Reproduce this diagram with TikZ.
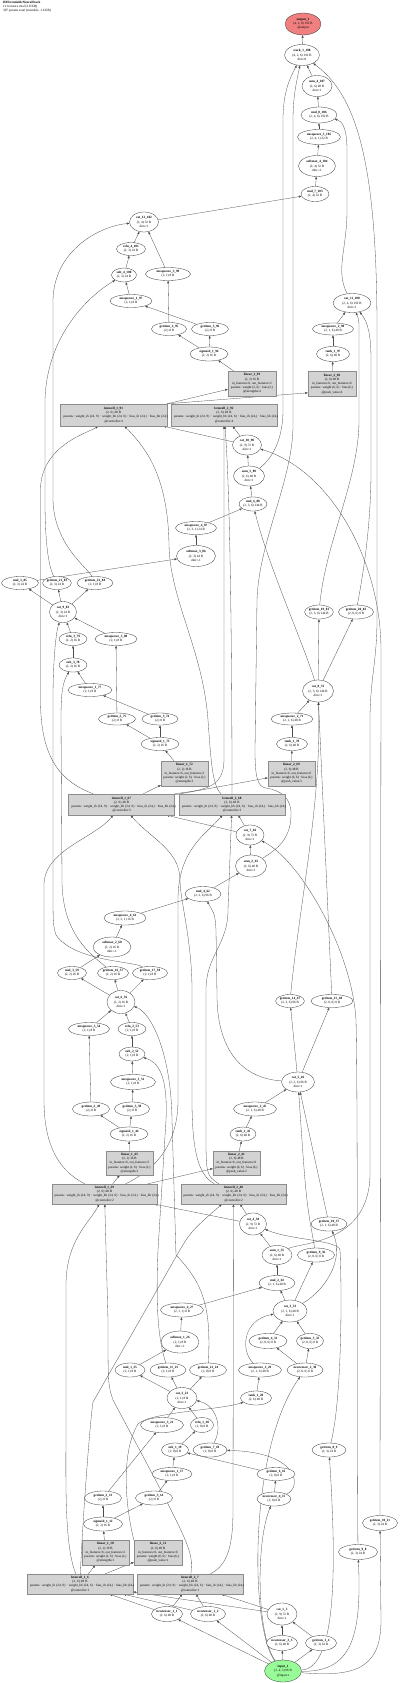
\documentclass[tikz,border=0pt]{standalone}
\usepackage{fontspec}
\setmainfont{Liberation Serif}
\usetikzlibrary{shapes.geometric, arrows.meta, backgrounds}
\definecolor{outFill}{HTML}{F08080}
\definecolor{inFill}{HTML}{98FB98}
\definecolor{boxFill}{HTML}{D3D3D3}
\definecolor{boxLine}{HTML}{8C8C8C}
\newcommand{\gfont}{\fontsize{3.3}{4.2}\selectfont}
\newcommand{\lstmparams}{\makebox[100pt][l]{params: weight\_ih (24, 9) · weight\_hh (24, 6) · bias\_ih (24,) · bias\_hh (24,)}}
\tikzset{
  tensor/.style={ellipse, draw=black!80, fill=white, line width=0.3pt,
                 inner sep=0pt, align=center, font=\gfont},
  outV/.style={tensor, fill=outFill},
  inV/.style={tensor, fill=inFill},
  modBox/.style={rectangle, draw=boxLine, fill=boxFill, line width=0.4pt,
                 inner sep=0pt, align=center, font=\gfont},
  lstmBox/.style={modBox, minimum width=106pt, minimum height=21pt, text width=100pt},
  linBox/.style={modBox, minimum width=48pt, minimum height=25pt},
  edge/.style={draw=black!70, line width=0.3pt, -{Triangle[length=2.6pt, width=2pt]}},
}

\begin{document}
\begin{tikzpicture}[x=1pt, y=-1pt]
  \useasboundingbox (0,0) rectangle (400,1683);
  %% title
  \node[anchor=north west, align=left, font=\gfont, inner sep=0pt] (title) at (3,1)
    {\textbf{DifferentiableNeuralStack}\\111 tensors total (3.8 KB)\\307 params total (trainable, 1.6 KB)};

  %% step 4 and output
  \node[outV, minimum width=36pt, minimum height=22pt] (out) at (303,24) {\textbf{output\_1}\\(4, 2, 6) 192 B\\@output};
  \node[tensor, minimum width=35pt, minimum height=21pt] (stk) at (302,55) {\textbf{stack\_1\_108}\\(4, 2, 6) 192 B\\dim=0};
  \node[tensor, minimum width=30pt, minimum height=21pt] (sum4) at (317,86) {\textbf{sum\_4\_107}\\(2, 6) 48 B\\dim=1};
  \node[tensor, minimum width=36pt, minimum height=16pt] (mul8) at (319,115) {\textbf{mul\_8\_106}\\(2, 4, 6) 192 B};
  \node[tensor, minimum width=43pt, minimum height=15pt] (u105) at (319,137) {\textbf{unsqueeze\_5\_105}\\(2, 4, 1) 32 B};
  \node[tensor, minimum width=37pt, minimum height=21pt] (sm4) at (317,166) {\textbf{softmax\_4\_104}\\(2, 4) 32 B\\dim=-1};
  \node[tensor, minimum width=28pt, minimum height=15pt] (mul7) at (315,194) {\textbf{mul\_7\_103}\\(2, 4) 32 B};
  \node[tensor, minimum width=29pt, minimum height=20pt] (cat12) at (144,222) {\textbf{cat\_12\_102}\\(2, 4) 32 B\\dim=1};
  \node[tensor, minimum width=29pt, minimum height=13pt] (relu4) at (131,249) {\textbf{relu\_4\_101}\\(2, 3) 24 B};
  \node[tensor, minimum width=25pt, minimum height=14pt] (sub4) at (124,275) {\textbf{sub\_4\_100}\\(2, 3) 24 B};
  \node[tensor, minimum width=45pt, minimum height=13pt] (u99) at (168,274) {\textbf{unsqueeze\_3\_99}\\(2, 1) 8 B};
  \node[tensor, minimum width=42pt, minimum height=13pt] (u97) at (131,301) {\textbf{unsqueeze\_1\_97}\\(2, 1) 8 B};
  \node[tensor, minimum width=35pt, minimum height=13pt] (g95) at (169,329) {\textbf{getitem\_2\_95}\\(2,) 8 B};
  \node[tensor, minimum width=37pt, minimum height=13pt] (g96) at (210,329) {\textbf{getitem\_3\_96}\\(2,) 8 B};
  \node[tensor, minimum width=38pt, minimum height=14pt] (sig4) at (209,354) {\textbf{sigmoid\_1\_94}\\(2, 2) 16 B};
  \node[linBox] (lin14) at (252,383.5) {\textbf{linear\_1\_93}\\(2, 2) 16 B\\in\_features=6, out\_features=2\\params: weight (2, 6) · bias (2,)\\@strengths:4};
  \node[lstmBox, minimum width=107pt, minimum height=22pt] (lstmA4) at (113.5,415) {\textbf{lstmcell\_1\_91}\\(2, 6) 48 B\\\lstmparams\\@controller:4};
  \node[lstmBox, minimum height=22pt] (lstmB4) at (224,415) {\textbf{lstmcell\_2\_92}\\(2, 6) 48 B\\\lstmparams\\@controller:4};
  \node[tensor, minimum width=38pt, minimum height=19pt] (cat11) at (352,303) {\textbf{cat\_11\_100}\\(2, 4, 6) 192 B\\dim=1};
  \node[tensor, minimum width=41pt, minimum height=12pt] (u98) at (333,329) {\textbf{unsqueeze\_2\_98}\\(2, 1, 6) 48 B};
  \node[tensor, minimum width=33pt, minimum height=15pt] (tanh4) at (333,354) {\textbf{tanh\_1\_97}\\(2, 6) 48 B};
  \node[linBox] (lin24) at (332,384) {\textbf{linear\_2\_96}\\(2, 6) 48 B\\in\_features=6, out\_features=6\\params: weight (6, 6) · bias (6,)\\@push\_value:4};

  %% step 3
  \node[tensor, minimum width=29pt, minimum height=20pt] (cat10) at (247,445) {\textbf{cat\_10\_90}\\(2, 9) 72 B\\dim=1};
  \node[tensor, minimum width=31pt, minimum height=20pt] (sum3) at (249,476) {\textbf{sum\_3\_89}\\(2, 6) 48 B\\dim=1};
  \node[tensor, minimum width=28pt, minimum height=14pt] (mul6) at (253,504) {\textbf{mul\_6\_88}\\(2, 3, 6) 144 B};
  \node[tensor, minimum width=41pt, minimum height=13pt] (u87) at (196,528) {\textbf{unsqueeze\_4\_87}\\(2, 3, 1) 24 B};
  \node[tensor, minimum width=39pt, minimum height=21pt] (sm3) at (196,556) {\textbf{softmax\_3\_86}\\(2, 3) 24 B\\dim=-1};
  \node[tensor, minimum width=37pt, minimum height=13pt] (mul5) at (20,583) {\textbf{mul\_5\_85}\\(2, 3) 24 B};
  \node[tensor, minimum width=28pt, minimum height=13pt] (g83) at (57,583) {\textbf{getitem\_21\_83}\\(2, 3) 24 B};
  \node[tensor, minimum width=36pt, minimum height=13pt] (g84) at (95,583) {\textbf{getitem\_22\_84}\\(2, 1) 8 B};
  \node[tensor, minimum width=27pt, minimum height=21pt] (cat9) at (63,612) {\textbf{cat\_9\_82}\\(2, 3) 24 B\\dim=1};
  \node[tensor, minimum width=28pt, minimum height=13pt] (relu3) at (73,639) {\textbf{relu\_3\_79}\\(2, 2) 16 B};
  \node[tensor, minimum width=42pt, minimum height=13pt] (u80) at (116,639) {\textbf{unsqueeze\_3\_80}\\(2, 1) 8 B};
  \node[tensor, minimum width=28pt, minimum height=14pt] (sub3) at (73,665) {\textbf{sub\_3\_78}\\(2, 2) 16 B};
  \node[tensor, minimum width=44pt, minimum height=13pt] (u77) at (90,690) {\textbf{unsqueeze\_1\_77}\\(2, 1) 8 B};
  \node[tensor, minimum width=26pt, minimum height=14pt] (g81) at (319,612) {\textbf{getitem\_19\_81}\\(2, 3, 6) 144 B};
  \node[tensor, minimum width=35pt, minimum height=14pt] (g82) at (356,612) {\textbf{getitem\_20\_82}\\(2, 0, 6) 0 B};
  \node[tensor, minimum width=31pt, minimum height=22pt] (cat8) at (318,691) {\textbf{cat\_8\_76}\\(2, 3, 6) 144 B\\dim=1};
  \node[tensor, minimum width=37pt, minimum height=12pt] (g75) at (117,719) {\textbf{getitem\_2\_75}\\(2,) 8 B};
  \node[tensor, minimum width=36pt, minimum height=12pt] (g74) at (160,719) {\textbf{getitem\_3\_74}\\(2,) 8 B};
  \node[tensor, minimum width=38pt, minimum height=13pt] (sig3) at (160,744) {\textbf{sigmoid\_1\_73}\\(2, 2) 16 B};
  \node[linBox, minimum width=47pt] (lin13) at (184.5,773.5) {\textbf{linear\_1\_72}\\(2, 2) 16 B\\in\_features=6, out\_features=2\\params: weight (2, 6) · bias (2,)\\@strengths:3};
  \node[tensor, minimum width=42pt, minimum height=12pt] (u71) at (292,719) {\textbf{unsqueeze\_2\_71}\\(2, 1, 6) 48 B};
  \node[tensor, minimum width=31pt, minimum height=13pt] (tanh3) at (292,744) {\textbf{tanh\_1\_70}\\(2, 6) 48 B};
  \node[linBox, minimum width=47pt] (lin23) at (291.5,773.5) {\textbf{linear\_2\_69}\\(2, 6) 48 B\\in\_features=6, out\_features=6\\params: weight (6, 6) · bias (6,)\\@push\_value:3};
  \node[lstmBox] (lstmA3) at (121.5,804.5) {\textbf{lstmcell\_1\_67}\\(2, 6) 48 B\\\lstmparams\\@controller:3};
  \node[lstmBox] (lstmB3) at (232,804.5) {\textbf{lstmcell\_2\_68}\\(2, 6) 48 B\\\lstmparams\\@controller:3};
  \node[tensor, minimum width=28pt, minimum height=20pt] (cat7) at (250,835) {\textbf{cat\_7\_66}\\(2, 9) 72 B\\dim=1};

  %% step 2
  \node[tensor, minimum width=31pt, minimum height=22pt] (sum2) at (251,866) {\textbf{sum\_2\_63}\\(2, 6) 48 B\\dim=1};
  \node[tensor, minimum width=36pt, minimum height=15pt] (mul4) at (203,894) {\textbf{mul\_4\_62}\\(2, 2, 6) 96 B};
  \node[tensor, minimum width=42pt, minimum height=14pt] (u61) at (125,918) {\textbf{unsqueeze\_4\_61}\\(2, 2, 1) 16 B};
  \node[tensor, minimum width=38pt, minimum height=20pt] (sm2) at (112,947) {\textbf{softmax\_2\_60}\\(2, 2) 16 B\\dim=-1};
  \node[tensor, minimum width=29pt, minimum height=13pt] (mul3) at (72,973) {\textbf{mul\_3\_59}\\(2, 2) 16 B};
  \node[tensor, minimum width=31pt, minimum height=13pt] (g57) at (113,973) {\textbf{getitem\_16\_57}\\(2, 2) 16 B};
  \node[tensor, minimum width=35pt, minimum height=13pt] (g58) at (150,973) {\textbf{getitem\_17\_58}\\(2, 1) 8 B};
  \node[tensor, minimum width=28pt, minimum height=23pt] (cat6) at (121,1002) {\textbf{cat\_6\_56}\\(2, 2) 16 B\\dim=1};
  \node[tensor, minimum width=41pt, minimum height=13pt] (u54) at (89,1029) {\textbf{unsqueeze\_3\_54}\\(2, 1) 8 B};
  \node[tensor, minimum width=28pt, minimum height=13pt] (relu2) at (132,1029) {\textbf{relu\_2\_53}\\(2, 1) 8 B};
  \node[tensor, minimum width=26pt, minimum height=14pt] (sub2) at (132,1054) {\textbf{sub\_2\_52}\\(2, 1) 8 B};
  \node[tensor, minimum width=45pt, minimum height=15pt] (u51) at (133,1082) {\textbf{unsqueeze\_1\_51}\\(2, 1) 8 B};
  \node[tensor, minimum width=37pt, minimum height=14pt] (g49) at (91,1109) {\textbf{getitem\_2\_49}\\(2,) 8 B};
  \node[tensor, minimum width=35pt, minimum height=14pt] (g50) at (132,1109) {\textbf{getitem\_3\_50}\\(2,) 8 B};
  \node[tensor, minimum width=24pt, minimum height=13pt] (g47) at (290,1001) {\textbf{getitem\_14\_47}\\(2, 2, 6) 96 B};
  \node[tensor, minimum width=42pt, minimum height=13pt] (g48) at (332,1001) {\textbf{getitem\_15\_48}\\(2, 0, 6) 0 B};
  \node[tensor, minimum width=33pt, minimum height=20pt] (cat5) at (298,1082) {\textbf{cat\_5\_46}\\(2, 2, 6) 96 B\\dim=1};
  \node[tensor, minimum width=43pt, minimum height=14pt] (u45) at (255,1109) {\textbf{unsqueeze\_2\_45}\\(2, 1, 6) 48 B};
  \node[tensor, minimum width=38pt, minimum height=14pt] (sig2) at (129,1134) {\textbf{sigmoid\_1\_44}\\(2, 2) 16 B};
  \node[linBox, minimum width=47pt, minimum height=24pt] (lin12) at (129.5,1163) {\textbf{linear\_1\_43}\\(2, 2) 16 B\\in\_features=6, out\_features=2\\params: weight (2, 6) · bias (2,)\\@strengths:2};
  \node[tensor, minimum width=26pt, minimum height=14pt] (tanh2) at (243,1134) {\textbf{tanh\_1\_42}\\(2, 6) 48 B};
  \node[linBox, minimum width=47pt, minimum height=24pt] (lin22) at (236.5,1163) {\textbf{linear\_2\_41}\\(2, 6) 48 B\\in\_features=6, out\_features=6\\params: weight (6, 6) · bias (6,)\\@push\_value:2};
  \node[lstmBox, minimum width=105pt, minimum height=20pt] (lstmA2) at (104.5,1194) {\textbf{lstmcell\_1\_39}\\(2, 6) 48 B\\\lstmparams\\@controller:2};
  \node[lstmBox, minimum width=105pt, minimum height=20pt] (lstmB2) at (233.5,1194) {\textbf{lstmcell\_2\_40}\\(2, 6) 48 B\\\lstmparams\\@controller:2};
  \node[tensor, minimum width=27pt, minimum height=22pt] (cat4) at (253,1224) {\textbf{cat\_4\_38}\\(2, 9) 72 B\\dim=1};
  \node[tensor, minimum width=36pt, minimum height=14pt] (g37) at (329,1224) {\textbf{getitem\_10\_37}\\(2, 1, 6) 48 B};
  \node[tensor, minimum width=30pt, minimum height=19pt] (sum1) at (277,1255) {\textbf{sum\_1\_35}\\(2, 6) 48 B\\dim=1};
  \node[tensor, minimum width=37pt, minimum height=14pt] (g36) at (316,1255) {\textbf{getitem\_9\_36}\\(2, 0, 6) 0 B};

  %% step 1
  \node[tensor, minimum width=36pt, minimum height=15pt] (mul2) at (277,1283) {\textbf{mul\_2\_34}\\(2, 1, 6) 48 B};
  \node[tensor, minimum width=34pt, minimum height=22pt] (cat3) at (290,1311) {\textbf{cat\_3\_33}\\(2, 1, 6) 48 B\\dim=1};
  \node[tensor, minimum width=38pt, minimum height=15pt] (g31) at (268,1341) {\textbf{getitem\_4\_31}\\(2, 0, 6) 0 B};
  \node[tensor, minimum width=27pt, minimum height=15pt] (g32) at (310,1341) {\textbf{getitem\_5\_32}\\(2, 0, 6) 0 B};
  \node[tensor, minimum width=43pt, minimum height=14pt] (u29) at (260,1370) {\textbf{unsqueeze\_2\_29}\\(2, 1, 6) 48 B};
  \node[tensor, minimum width=36pt, minimum height=14pt] (nt30) at (305,1370) {\textbf{newtensor\_2\_30}\\(2, 0, 6) 0 B};
  \node[tensor, minimum width=31pt, minimum height=14pt] (tanh1) at (256,1398) {\textbf{tanh\_1\_28}\\(2, 6) 48 B};
  \node[tensor, minimum width=43pt, minimum height=14pt] (u27) at (182,1310) {\textbf{unsqueeze\_4\_27}\\(2, 1, 1) 8 B};
  \node[tensor, minimum width=38pt, minimum height=22pt] (sm1) at (180,1342) {\textbf{softmax\_1\_26}\\(2, 1) 8 B\\dim=-1};
  \node[tensor, minimum width=30pt, minimum height=14pt] (mul1) at (130,1370) {\textbf{mul\_1\_25}\\(2, 1) 8 B};
  \node[tensor, minimum width=36pt, minimum height=14pt] (g23) at (168,1370) {\textbf{getitem\_11\_23}\\(2, 1) 8 B};
  \node[tensor, minimum width=37pt, minimum height=14pt] (g24) at (208,1370) {\textbf{getitem\_12\_24}\\(2, 0) 0 B};
  \node[tensor, minimum width=30pt, minimum height=21pt] (cat2) at (182,1398) {\textbf{cat\_2\_22}\\(2, 1) 8 B\\dim=1};
  \node[tensor, minimum width=43pt, minimum height=15pt] (u21) at (162,1425) {\textbf{unsqueeze\_3\_21}\\(2, 1) 8 B};
  \node[tensor, minimum width=23pt, minimum height=15pt] (relu1) at (202,1425) {\textbf{relu\_1\_20}\\(2, 0) 0 B};
  \node[tensor, minimum width=27pt, minimum height=14pt] (sub1) at (175,1450) {\textbf{sub\_1\_19}\\(2, 0) 0 B};
  \node[tensor, minimum width=34pt, minimum height=14pt] (g18) at (210,1450) {\textbf{getitem\_7\_18}\\(2, 0) 0 B};
  \node[tensor, minimum width=40pt, minimum height=13pt] (u17) at (172,1474) {\textbf{unsqueeze\_1\_17}\\(2, 1) 8 B};
  \node[tensor, minimum width=38pt, minimum height=13pt] (g16) at (276,1474) {\textbf{getitem\_6\_16}\\(2, 0) 0 B};
  \node[tensor, minimum width=34pt, minimum height=14pt] (nt15) at (274,1499) {\textbf{newtensor\_4\_15}\\(2, 0) 0 B};
  \node[tensor, minimum width=37pt, minimum height=14pt] (g13) at (103,1498) {\textbf{getitem\_2\_13}\\(2,) 8 B};
  \node[tensor, minimum width=37pt, minimum height=14pt] (g14) at (154,1498) {\textbf{getitem\_3\_14}\\(2,) 8 B};
  \node[tensor, minimum width=39pt, minimum height=14pt] (sig1) at (103,1524) {\textbf{sigmoid\_1\_12}\\(2, 2) 16 B};
  \node[tensor, minimum width=34pt, minimum height=14pt] (g9) at (329,1450) {\textbf{getitem\_8\_9}\\(2, 3) 24 B};
  \node[tensor, minimum width=35pt, minimum height=15pt] (g11) at (380,1523) {\textbf{getitem\_10\_11}\\(2, 3) 24 B};
  \node[linBox, minimum width=47pt] (lin11) at (105.5,1552.5) {\textbf{linear\_1\_10}\\(2, 2) 16 B\\in\_features=6, out\_features=2\\params: weight (2, 6) · bias (2,)\\@strengths:1};
  \node[linBox] (lin21) at (158,1552.5) {\textbf{linear\_2\_11}\\(2, 6) 48 B\\in\_features=6, out\_features=6\\params: weight (6, 6) · bias (6,)\\@push\_value:1};
  \node[tensor, minimum width=39pt, minimum height=15pt] (g10) at (358,1552) {\textbf{getitem\_9\_8}\\(2, 3) 24 B};
  \node[lstmBox, minimum height=20pt] (lstmA1) at (80,1584) {\textbf{lstmcell\_1\_6}\\(2, 6) 48 B\\\lstmparams\\@controller:1};
  \node[lstmBox, minimum height=20pt] (lstmB1) at (190,1584) {\textbf{lstmcell\_2\_7}\\(2, 6) 48 B\\\lstmparams\\@controller:1};
  \node[tensor, minimum width=31pt, minimum height=15pt] (nt1) at (167,1614) {\textbf{newtensor\_1\_1}\\(2, 6) 48 B};
  \node[tensor, minimum width=35pt, minimum height=15pt] (nt2) at (208,1614) {\textbf{newtensor\_1\_2}\\(2, 6) 48 B};
  \node[tensor, minimum width=30pt, minimum height=22pt] (cat1) at (282,1614) {\textbf{cat\_1\_5}\\(2, 9) 72 B\\dim=1};
  \node[tensor, minimum width=31pt, minimum height=15pt] (nt3) at (282,1643) {\textbf{newtensor\_3\_3}\\(2, 6) 48 B};
  \node[tensor, minimum width=31pt, minimum height=15pt] (g4) at (321,1643) {\textbf{getitem\_1\_4}\\(2, 3) 24 B};
  \node[inV, minimum width=37pt, minimum height=22pt] (inp) at (283,1671) {\textbf{input\_1}\\(2, 4, 3) 96 B\\@input.x};

  \begin{scope}[on background layer]
    %% step 1 connectors
    \draw[edge] (inp) -- (nt1);
    \draw[edge] (inp) -- (nt2);
    \draw[edge] (inp) -- (nt3);
    \draw[edge] (inp) -- (g4);
    \draw[edge] (inp) .. controls (256,1635) and (256,1540) .. (nt15);
    \draw[edge] (inp) .. controls (250,1630) and (248,1450) .. (nt30);
    \draw[edge] (inp) .. controls (338,1668) and (336,1560) .. (g9);
    \draw[edge] (inp) .. controls (350,1672) and (362,1640) .. (g10);
    \draw[edge] (inp) .. controls (360,1678) and (381,1665) .. (381,1620) -- (g11);
    \draw[edge] (nt3) -- (cat1);
    \draw[edge] (g4) -- (cat1);
    \draw[edge] (nt1) -- (lstmA1);
    \draw[edge] (nt2) -- (lstmA1);
    \draw[edge] (cat1) -- (lstmA1);
    \draw[edge] (nt1) -- (lstmB1);
    \draw[edge] (nt2) -- (lstmB1);
    \draw[edge] (cat1) -- (lstmB1);
    \draw[edge] (lstmA1) -- (lin11);
    \draw[edge] (lstmA1) -- (lin21);
    \draw[edge] (lstmA1) .. controls (64,1545) and (66,1480) .. (66,1420) -- (66,1285)
                .. controls (66,1240) and (90,1222) .. (lstmA2);
    \draw[edge] (lstmB1) .. controls (193,1550) .. (113,1400) .. controls (108,1385) .. (108,1320) -- (lstmA2);
    \draw[edge] (lstmA1) .. controls (82,1530) and (90,1420) .. (93,1402) -- (173,1262)
                .. controls (190,1232) .. (lstmB2);
    \draw[edge] (lstmB1) .. controls (228,1565) and (233,1545) .. (233,1510) -- (lstmB2);
    \draw[edge] (lin11) -- (sig1);
    \draw[edge] (sig1) -- (g13);
    \draw[edge] (sig1) -- (g14);
    \draw[edge] (g13) -- (u21);
    \draw[edge] (g14) -- (u17);
    \draw[edge] (u17) -- (sub1);
    \draw[edge] (g16) -- (sub1);
    \draw[edge] (nt15) -- (g16);
    \draw[edge] (nt15) .. controls (302,1488) and (300,1452) .. (g18);
    \draw[edge] (sub1) -- (relu1);
    \draw[edge] (u21) -- (cat2);
    \draw[edge] (relu1) -- (cat2);
    \draw[edge] (g18) .. controls (224,1425) and (214,1404) .. (cat2);
    \draw[edge] (lin21.north west) .. controls (124,1500) and (122,1450) .. (138,1424)
                .. controls (150,1412) and (220,1410) .. (tanh1);
    \draw[edge] (tanh1) -- (u29);
    \draw[edge] (nt30) -- (g31);
    \draw[edge] (nt30) -- (g32);
    \draw[edge] (g31) -- (cat3);
    \draw[edge] (g32) -- (cat3);
    \draw[edge] (u29) .. controls (240,1350) and (243,1320) .. (cat3);
    \draw[edge] (cat2) -- (mul1);
    \draw[edge] (cat2) -- (g23);
    \draw[edge] (cat2) -- (g24);
    \draw[edge] (mul1) -- (sm1);
    \draw[edge] (sm1) -- (u27);
    \draw[edge] (u27) -- (mul2);
    \draw[edge] (cat3) -- (mul2);
    \draw[edge] (mul2) -- (sum1);
    \draw[edge] (cat3) -- (g36);
    \draw[edge] (cat3) .. controls (325,1290) and (345,1260) .. (g37);
    \draw[edge] (sum1) -- (cat4);
    \draw[edge] (g9) .. controls (342,1400) and (342,1290) .. (340,1250)
                .. controls (338,1240) and (290,1240) .. (cat4);
    \draw[edge] (sum1) .. controls (300,1242) and (372,1245) .. (370,1170) -- (370,720)
                .. controls (370,680) and (377,660) .. (377,620) -- (377,330)
                .. controls (377,160) and (356,95) .. (stk);
    \draw[edge] (g23) .. controls (157,1335) and (156,1300) .. (158,1250) -- (166,1120)
                .. controls (168,1075) and (158,1062) .. (sub2);
    \draw[edge] (g24) .. controls (211,1310) and (205,1285) .. (176,1255) -- (172,1120)
                .. controls (171,1050) and (150,1012) .. (cat6);

    %% step 2 connectors
    \draw[edge] (cat4) -- (lstmA2);
    \draw[edge] (cat4) -- (lstmB2);
    \draw[edge] (lstmA2) -- (lin12);
    \draw[edge] (lstmA2) -- (lin22);
    \draw[edge] (lstmA2) .. controls (62,1172) and (44,1150) .. (44,1100) -- (44,885)
                .. controls (44,850) and (95,838) .. (lstmA3);
    \draw[edge] (lstmB2) .. controls (198,1175) and (192,1150) .. (192,1100) -- (192,990)
                .. controls (192,940) and (180,900) .. (180,880) .. controls (180,850) and (150,838) .. (lstmA3);
    \draw[edge] (lstmA2) .. controls (150,1172) and (178,1150) .. (178,1100) -- (178,900)
                .. controls (178,850) and (205,835) .. (lstmB3);
    \draw[edge] (lstmB2) .. controls (206,1175) .. (206,1130) -- (206,990)
                .. controls (206,955) and (228,945) .. (228,910) -- (lstmB3);
    \draw[edge] (lin12) -- (sig2);
    \draw[edge] (sig2) -- (g49);
    \draw[edge] (sig2) -- (g50);
    \draw[edge] (g49) -- (u54);
    \draw[edge] (g50) -- (u51);
    \draw[edge] (u51) -- (sub2);
    \draw[edge] (sub2) -- (relu2);
    \draw[edge] (u54) -- (cat6);
    \draw[edge] (relu2) -- (cat6);
    \draw[edge] (lin22) -- (tanh2);
    \draw[edge] (tanh2) -- (u45);
    \draw[edge] (g36) .. controls (306,1200) .. (cat5);
    \draw[edge] (g37) -- (cat5);
    \draw[edge] (u45) -- (cat5);
    \draw[edge] (cat6) -- (mul3);
    \draw[edge] (cat6) -- (g57);
    \draw[edge] (cat6) -- (g58);
    \draw[edge] (mul3) -- (sm2);
    \draw[edge] (sm2) -- (u61);
    \draw[edge] (u61) -- (mul4);
    \draw[edge] (cat5) .. controls (238,1078) and (217,1045) .. (217,995) -- (216,930)
                .. controls (215,915) .. (mul4);
    \draw[edge] (mul4) -- (sum2);
    \draw[edge] (sum2) -- (cat7);
    \draw[edge] (cat5) -- (g47);
    \draw[edge] (cat5) -- (g48);
    \draw[edge] (g10) .. controls (357,1450) and (358,1100) .. (356,1020)
                .. controls (352,950) and (300,860) .. (cat7);

    %% step 3 connectors
    \draw[edge] (cat7) -- (lstmA3);
    \draw[edge] (cat7) -- (lstmB3);
    \draw[edge] (lstmA3) -- (lin13);
    \draw[edge] (lstmA3) -- (lin23);
    \draw[edge] (lstmA3) .. controls (62,782) and (40.5,760) .. (40.5,700) -- (40.5,490)
                .. controls (40.5,445) and (90,432) .. (lstmA4);
    \draw[edge] (lstmB3) .. controls (212,785) and (211,760) .. (208,720)
                .. controls (203,650) and (170,600) .. (169,545)
                .. controls (168,475) and (145,447) .. (lstmA4);
    \draw[edge] (lstmA3.north east) .. controls (200,790) and (224,790) .. (224,760) -- (lstmB4);
    \draw[edge] (lstmB3) .. controls (232,700) and (231,500) .. (lstmB4);
    \draw[edge] (lin13) -- (sig3);
    \draw[edge] (sig3) -- (g75);
    \draw[edge] (sig3) -- (g74);
    \draw[edge] (g75) -- (u80);
    \draw[edge] (g74) -- (u77);
    \draw[edge] (u77) -- (sub3);
    \draw[edge] (sub3) -- (relu3);
    \draw[edge] (u80) -- (cat9);
    \draw[edge] (relu3) -- (cat9);
    \draw[edge] (g57) .. controls (92,955) and (62,935) .. (62,880) -- (61,720)
                .. controls (61,690) and (63,682) .. (sub3);
    \draw[edge] (g58) .. controls (135,961) and (75,962) .. (56,935) .. controls (53,925) .. (53,880)
                -- (53,700) .. controls (53,660) and (56,632) .. (cat9);
    \draw[edge] (lin23) -- (tanh3);
    \draw[edge] (tanh3) -- (u71);
    \draw[edge] (g47) .. controls (300,900) and (322,800) .. (cat8);
    \draw[edge] (g48) -- (cat8);
    \draw[edge] (u71) -- (cat8);
    \draw[edge] (cat9) -- (mul5);
    \draw[edge] (cat9) -- (g83);
    \draw[edge] (cat9) -- (g84);
    \draw[edge] (mul5) -- (sm3);
    \draw[edge] (sm3) -- (u87);
    \draw[edge] (u87) -- (mul6);
    \draw[edge] (cat8) .. controls (302,640) and (268,565) .. (mul6);
    \draw[edge] (mul6) -- (sum3);
    \draw[edge] (sum3) -- (cat10);
    \draw[edge] (cat8) -- (g81);
    \draw[edge] (cat8) -- (g82);
    \draw[edge] (g11) -- (381,650) .. controls (381,560) and (330,470) .. (cat10);
    \draw[edge] (sum2) .. controls (272,852) and (291,842) .. (291,815)
                .. controls (292,798) and (280,790) .. (266,788) .. controls (257,787) and (255,775) .. (255,750)
                -- (257,600) .. controls (259,540) and (293,480) .. (293,425) -- (293,120)
                .. controls (293,95) and (297,80) .. (stk);

    %% step 4 connectors
    \draw[edge] (cat10) -- (lstmA4);
    \draw[edge] (cat10) -- (lstmB4);
    \draw[edge] (lstmA4.north east) -- (lin14);
    \draw[edge] (lstmA4.north east) -- (lin24.200);
    \draw[edge] (lin14) -- (sig4);
    \draw[edge] (sig4) -- (g95);
    \draw[edge] (sig4) -- (g96);
    \draw[edge] (g95) -- (u99);
    \draw[edge] (g96) -- (u97);
    \draw[edge] (u97) -- (sub4);
    \draw[edge] (g83) .. controls (48,565) and (45,540) .. (45,500) -- (45,400)
                .. controls (47,330) and (95,292) .. (sub4);
    \draw[edge] (sub4) -- (relu4);
    \draw[edge] (relu4) -- (cat12);
    \draw[edge] (u99) -- (cat12);
    \draw[edge] (g84) .. controls (88,568) and (54,545) .. (53,500) -- (53,300)
                .. controls (54,250) and (100,226) .. (cat12);
    \draw[edge] (cat12) -- (mul7);
    \draw[edge] (mul7) -- (sm4);
    \draw[edge] (sm4) -- (u105);
    \draw[edge] (u105) -- (mul8);
    \draw[edge] (mul8) -- (sum4);
    \draw[edge] (sum4) -- (stk);
    \draw[edge] (stk) -- (out);
    \draw[edge] (lin24) -- (tanh4);
    \draw[edge] (tanh4) -- (u98);
    \draw[edge] (u98) -- (cat11);
    \draw[edge] (g81) .. controls (326,540) and (359,480) .. (359,420) -- (359,330)
                .. controls (359,320) .. (cat11);
    \draw[edge] (g82) .. controls (362,580) and (371,530) .. (371,470) -- (371,360)
                .. controls (371,335) and (368,322) .. (cat11);
    \draw[edge] (cat11) .. controls (335,270) and (347,250) .. (347,210) -- (347,150)
                .. controls (347,128) and (342,121) .. (mul8);
    \draw[edge] (sum3) .. controls (268,462) and (283,445) .. (283,410) -- (283,120)
                .. controls (283,92) and (290,78) .. (stk);
  \end{scope}
\end{tikzpicture}
\end{document}
